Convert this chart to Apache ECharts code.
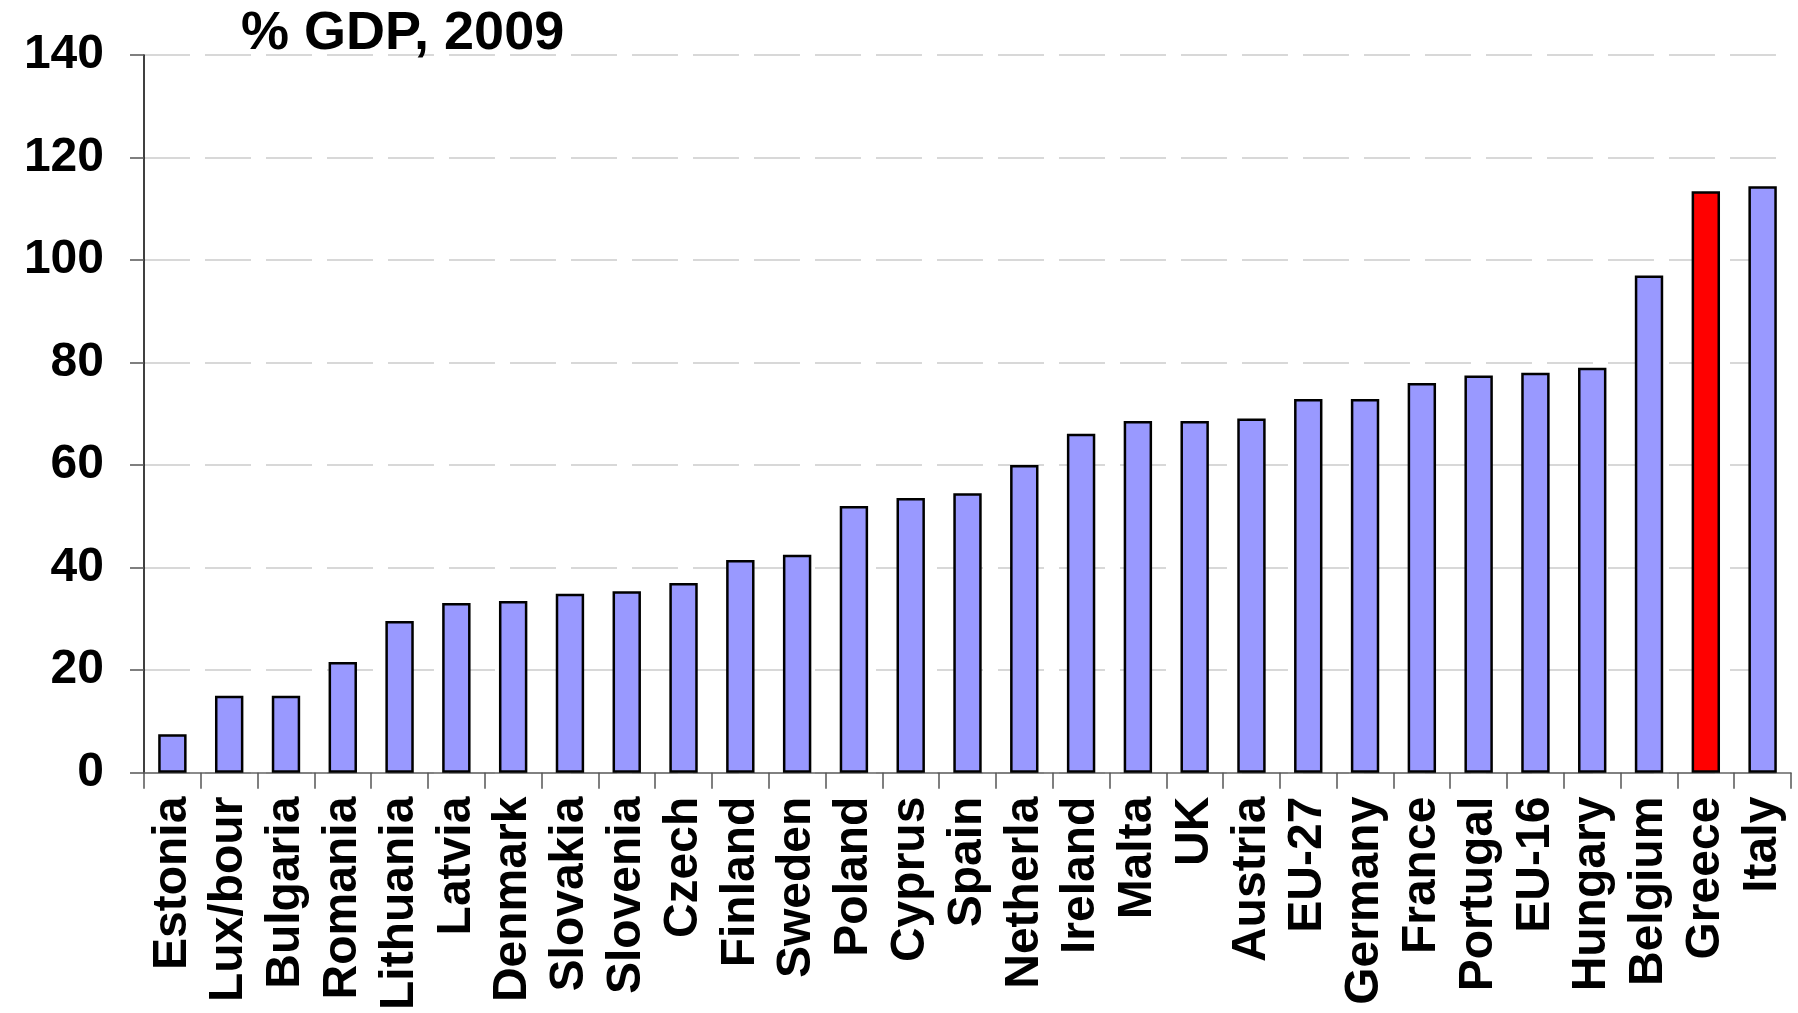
<!DOCTYPE html>
<html>
<head>
<meta charset="utf-8">
<script src="https://cdn.jsdelivr.net/npm/echarts@6/dist/echarts.min.js"></script>
<style>
  html, body { margin: 0; padding: 0; background: #fff; }
  #chart { width: 1798px; height: 1013px; }
</style>
</head>
<body>
<div id="chart"></div>
<script>
const countries = [
  "Estonia", "Lux/bour", "Bulgaria", "Romania", "Lithuania", "Latvia",
  "Denmark", "Slovakia", "Slovenia", "Czech", "Finland", "Sweden",
  "Poland", "Cyprus", "Spain", "Netherla", "Ireland", "Malta", "UK",
  "Austria", "EU-27", "Germany", "France", "Portugal", "EU-16",
  "Hungary", "Belgium", "Greece", "Italy"
];
const debt = [
  7.5, 15.0, 15.0, 21.6, 29.6, 33.1,
  33.5, 34.9, 35.4, 37.0, 41.5, 42.5,
  52.0, 53.6, 54.5, 60.0, 66.1, 68.6, 68.6,
  69.1, 72.9, 72.9, 76.0, 77.5, 78.0,
  79.0, 97.0, 113.4, 114.4
];
const highlight = ["Greece"];
const yTicks = [0, 20, 40, 60, 80, 100, 120, 140];

const font = "'Liberation Sans', Arial, sans-serif";
const chart = echarts.init(document.getElementById("chart"));

const option = {
  animation: false,
  title: {
    text: "% GDP, 2009",
    left: 236,
    top: 2,
    textStyle: { fontFamily: font, fontSize: 54, fontWeight: "bold", color: "#000" },
  },
  grid: { left: 144, right: 7, top: 55, bottom: 240 },
  xAxis: {
    type: "category",
    data: countries,
    axisLine: { lineStyle: { color: "#666", width: 1.5 } },
    axisTick: { show: true, length: 16, lineStyle: { color: "#555", width: 1.5 } },
    axisLabel: {
      rotate: 90,
      interval: 0,
      margin: 24,
      fontFamily: font,
      fontSize: 48,
      fontWeight: "bold",
      color: "#000",
    },
  },
  yAxis: {
    type: "value",
    min: yTicks[0],
    max: yTicks[yTicks.length - 1],
    interval: 20,
    axisLine: { show: true, lineStyle: { color: "#000", width: 1.5 } },
    axisTick: { show: true, length: 14, lineStyle: { color: "#555", width: 1.5 } },
    axisLabel: {
      margin: 40,
      fontFamily: font,
      fontSize: 48,
      fontWeight: "bold",
      color: "#000",
    },
    splitLine: { lineStyle: { color: "#cccccc", width: 1.5, type: [46, 15] } },
  },
  series: [
    {
      type: "bar",
      barWidth: "50%",
      data: debt.map((v, i) => ({
        value: v,
        itemStyle: {
          color: highlight.includes(countries[i]) ? "#ff0000" : "#9999ff",
        },
      })),
      itemStyle: { borderColor: "#000", borderWidth: 2.5 },
    },
  ],
};

chart.setOption(option);
</script>
</body>
</html>
